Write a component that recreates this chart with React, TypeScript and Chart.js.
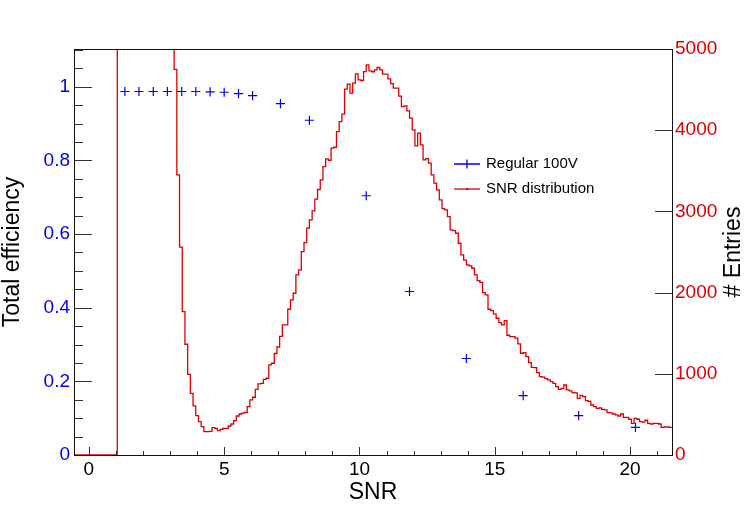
import React, { useEffect, useRef } from "react";
import { Chart, registerables, Plugin } from "chart.js";

Chart.register(...registerables);

// SNR histogram, 0.1 wide bins, first lower edge at -0.55
const histLow = -0.55;
const binWidth = 0.1;
const snrCounts = [
  // -0.5 .. 1.0
  0, 0, 0, 0, 0, 0, 0, 0, 0, 0, 0, 0, 0, 0, 0, 0,
  // 1.1 .. 3.1 (off scale, drawn at the frame top)
  5000, 5000, 5000, 5000, 5000, 5000, 5000, 5000, 5000, 5000, 5000,
  5000, 5000, 5000, 5000, 5000, 5000, 5000, 5000, 5000, 5000,
  // 3.2 ..
  4750, 3450, 2560, 1766, 1364, 994, 760, 604,
  485, 411, 349, 287, 287, 290, 336, 328, 299, 316,
  328, 328, 357, 382, 423, 480, 505, 515, 525, 595,
  678, 711, 809, 875, 883, 932, 945, 1109, 1130, 1250,
  1330, 1460, 1602, 1602, 1795, 1910, 1992, 2218, 2279, 2505,
  2616, 2793, 2895, 3006, 3150, 3270, 3388, 3552, 3647, 3630,
  3779, 3790, 3983, 4106, 4197, 4505, 4567, 4456, 4580, 4694,
  4620, 4612, 4722, 4805, 4731, 4720, 4743, 4772, 4743, 4690,
  4690, 4632, 4574, 4518, 4518, 4419, 4291, 4300, 4238, 4148,
  4004, 3807, 3963, 3819, 3634, 3650, 3594, 3450, 3347, 3265,
  3142, 3035, 3019, 2936, 2772, 2764, 2731, 2608, 2464, 2400,
  2341, 2328, 2300, 2218, 2148, 2127, 2000, 1971, 1795, 1778,
  1737, 1684, 1630, 1602, 1655, 1475, 1458, 1458, 1440, 1368,
  1253, 1260, 1211, 1137, 1080, 1075, 1014, 965, 960, 940,
  924, 903, 883, 841, 809, 820, 862, 801, 790, 768,
  765, 698, 735, 719, 669, 660, 616, 595, 575, 580,
  563, 555, 521, 518, 505, 495, 480, 505, 464, 464,
  440, 390, 452, 440, 411, 404, 428, 390, 382, 390,
  390, 382, 341, 345, 345, 340,
];

// efficiency points
const effSnr = [1.33, 1.85, 2.38, 2.9, 3.43, 3.95, 4.48, 5.0, 5.53, 6.05, 7.08, 8.15, 10.25, 11.85, 13.95, 16.05, 18.1, 20.2];
const effValues = [0.987, 0.987, 0.987, 0.987, 0.987, 0.987, 0.986, 0.985, 0.981, 0.976, 0.954, 0.909, 0.704, 0.444, 0.262, 0.161, 0.107, 0.075];

const xTicks = [0, 5, 10, 15, 20];
const effTicks = [0, 0.2, 0.4, 0.6, 0.8, 1];
const entryTicks = [0, 1000, 2000, 3000, 4000, 5000];

const effLabel = "Regular 100V";
const histLabel = "SNR distribution";
const xTitle = "SNR";
const leftTitle = "Total efficiency";
const rightTitle = "# Entries";

const FONT = '"Liberation Sans", Arial, Helvetica, sans-serif';
const BLUE = "#0000ee";
const RED = "#dd0000";

// frame, inward ticks, titles and legend drawn ROOT style
const rootStyle: Plugin = {
  id: "rootStyle",
  afterDraw(chart) {
    const { ctx, chartArea: a, scales } = chart;
    const sx = scales.x;
    const sy = scales.y;
    const sy1 = scales.y1;
    ctx.save();

    // ticks
    ctx.strokeStyle = "#333";
    ctx.lineWidth = 1;
    ctx.beginPath();
    for (let v = Math.ceil(sx.min); v <= sx.max; v++) {
      const px = Math.round(sx.getPixelForValue(v)) + 0.5;
      const len = v % 5 === 0 ? 8 : 4;
      ctx.moveTo(px, a.bottom);
      ctx.lineTo(px, a.bottom - len);
    }
    for (let i = 0; i * 0.05 <= sy.max; i++) {
      const py = Math.round(sy.getPixelForValue(i * 0.05)) + 0.5;
      const len = i % 4 === 0 ? 18 : 9;
      ctx.moveTo(a.left, py);
      ctx.lineTo(a.left + len, py);
    }
    entryTicks.forEach((v) => {
      const py = Math.round(sy1.getPixelForValue(v)) + 0.5;
      ctx.moveTo(a.right, py);
      ctx.lineTo(a.right - 17, py);
    });
    ctx.stroke();

    // frame
    ctx.strokeStyle = "#111";
    ctx.strokeRect(a.left + 0.5, a.top + 0.5, a.right - a.left, a.bottom - a.top);

    // axis titles
    const midY = (a.top + a.bottom) / 2;
    ctx.fillStyle = "#000";
    ctx.font = `23px ${FONT}`;
    ctx.textAlign = "center";
    ctx.textBaseline = "middle";
    ctx.fillText(xTitle, (a.left + a.right) / 2, 493);
    ctx.save();
    ctx.translate(13, midY);
    ctx.rotate(-Math.PI / 2);
    ctx.fillText(leftTitle, 0, 0);
    ctx.restore();
    ctx.save();
    ctx.translate(734, midY);
    ctx.rotate(-Math.PI / 2);
    ctx.fillText(rightTitle, 0, 0);
    ctx.restore();

    // legend
    const lx0 = 454;
    const lx1 = 480;
    const rows = [164, 189];
    ctx.lineWidth = 1.3;
    ctx.strokeStyle = BLUE;
    ctx.beginPath();
    ctx.moveTo(lx0, rows[0]);
    ctx.lineTo(lx1, rows[0]);
    ctx.moveTo((lx0 + lx1) / 2, rows[0] - 4.6);
    ctx.lineTo((lx0 + lx1) / 2, rows[0] + 4.6);
    ctx.stroke();
    ctx.strokeStyle = RED;
    ctx.beginPath();
    ctx.moveTo(lx0, rows[1]);
    ctx.lineTo(lx1, rows[1]);
    ctx.stroke();
    ctx.fillStyle = "#000";
    ctx.fillRect((lx0 + lx1) / 2 - 0.5, rows[1] - 0.5, 1.5, 1.5);
    ctx.font = `15px ${FONT}`;
    ctx.textAlign = "left";
    ctx.fillText(effLabel, 486, rows[0]);
    ctx.fillText(histLabel, 486, rows[1]);

    ctx.restore();
  },
};

export default function App() {
  const canvasRef = useRef<HTMLCanvasElement>(null);

  useEffect(() => {
    if (!canvasRef.current) return;

    // step line through lower bin edges, closed at the last upper edge
    const histPoints = snrCounts.map((c, i) => ({ x: histLow + i * binWidth, y: c }));
    histPoints.push({ x: histLow + snrCounts.length * binWidth, y: snrCounts[snrCounts.length - 1] });
    const effPoints = effSnr.map((x, i) => ({ x, y: effValues[i] }));

    const setTicks = (values: number[]) => (scale: any) => {
      scale.ticks = values.map((value) => ({ value }));
    };

    const chart = new Chart(canvasRef.current, {
      type: "line",
      data: {
        datasets: [
          {
            label: effLabel,
            data: effPoints,
            yAxisID: "y",
            showLine: false,
            pointStyle: "cross",
            pointRadius: 4.6,
            pointBorderWidth: 1.2,
            pointBorderColor: BLUE,
            borderColor: BLUE,
          },
          {
            label: histLabel,
            data: histPoints,
            yAxisID: "y1",
            stepped: "before",
            borderColor: RED,
            borderWidth: 1.3,
            pointRadius: 0,
            fill: false,
          },
        ],
      },
      options: {
        responsive: false,
        animation: false,
        layout: { padding: { top: 49, left: 0, right: 0, bottom: 0 } },
        plugins: {
          legend: { display: false },
          tooltip: { enabled: false },
        },
        scales: {
          x: {
            type: "linear",
            min: histLow,
            max: 21.55,
            afterBuildTicks: setTicks(xTicks),
            afterFit: (s: any) => {
              s.height = 51;
            },
            grid: { display: false, drawTicks: false },
            border: { display: false },
            ticks: {
              color: "#000",
              font: { family: FONT, size: 19 },
              padding: 3,
              maxRotation: 0,
              autoSkip: false,
              callback: (v: any) => String(v),
            },
          },
          y: {
            position: "left",
            min: 0,
            max: 1.1024,
            afterBuildTicks: setTicks(effTicks),
            afterFit: (s: any) => {
              s.width = 74;
            },
            grid: { display: false, drawTicks: false },
            border: { display: false },
            ticks: {
              color: BLUE,
              font: { family: FONT, size: 19 },
              padding: 4,
              autoSkip: false,
              callback: (v: any) => String(v),
            },
          },
          y1: {
            position: "right",
            min: 0,
            max: 5000,
            afterBuildTicks: setTicks(entryTicks),
            afterFit: (s: any) => {
              s.width = 75;
            },
            grid: { display: false, drawTicks: false },
            border: { display: false },
            ticks: {
              color: RED,
              font: { family: FONT, size: 19 },
              padding: 3,
              autoSkip: false,
              callback: (v: any) => String(v),
            },
          },
        },
      },
      plugins: [rootStyle],
    });

    return () => {
      chart.destroy();
    };
  }, []);

  return (
    <canvas
      ref={canvasRef}
      width={747}
      height={506}
      style={{ position: "fixed", left: 0, top: 0, background: "#fff" }}
    />
  );
}
